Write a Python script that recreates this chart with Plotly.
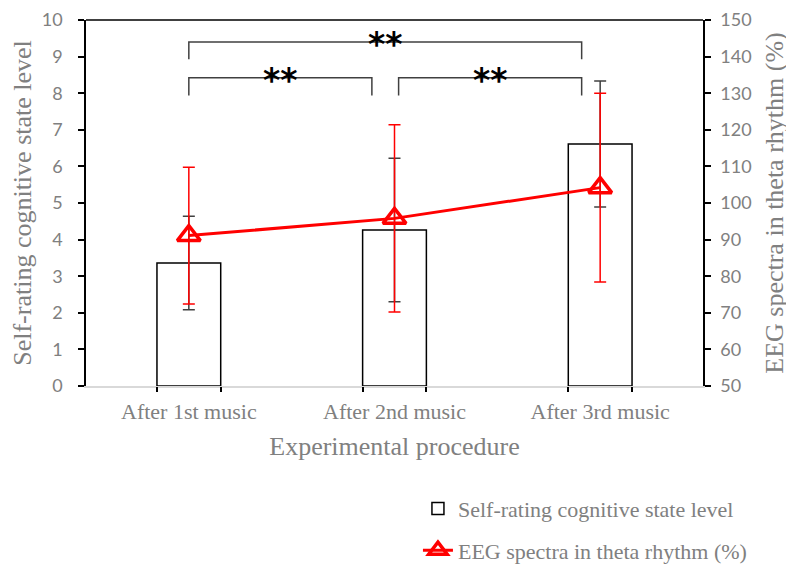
import plotly.graph_objects as go

# ---------------- data ----------------
categories = ["After 1st music", "After 2nd music", "After 3rd music"]
self_rating = [3.36, 4.26, 6.61]
self_rating_err = [1.28, 1.96, 1.72]
eeg_theta = [91.1, 95.8, 104.2]
eeg_theta_err = [18.7, 25.6, 25.8]

# significance brackets: (x start, x end, top level, drop level) on left axis scale
bracket_x0 = [0.0, 0.0, 1.02]
bracket_x1 = [1.91, 0.89, 1.91]
bracket_top = [9.40, 8.42, 8.42]
bracket_bottom = [8.93, 7.94, 7.94]
bracket_label = ["**", "**", "**"]

yl_ticks = list(range(0, 11))
yr_ticks = list(range(50, 151, 10))

BAR_W = 0.31
GRAY = "#808080"
SERIF = "Liberation Serif, Times New Roman, serif"
SANS = "Lato, Carlito, Calibri, sans-serif"

fig = go.Figure()

fig.add_trace(go.Bar(
    x=categories, y=self_rating, width=BAR_W,
    name="Self-rating cognitive state level",
    marker=dict(color="white", line=dict(color="black", width=1.5)),
    error_y=dict(type="data", array=self_rating_err, visible=True,
                 color="#404040", thickness=1.5, width=6),
    yaxis="y", legendgroup="a",
))

fig.add_trace(go.Scatter(
    x=categories, y=eeg_theta, mode="lines+markers",
    name="EEG spectra in theta rhythm (%)",
    line=dict(color="#ff0000", width=3),
    marker=dict(symbol="triangle-up-open", size=20, color="#ff0000",
                line=dict(color="#ff0000", width=3.5)),
    error_y=dict(type="data", array=eeg_theta_err, visible=True,
                 color="#ff0000", thickness=1.5, width=6),
    yaxis="y2", legendgroup="b",
))

# invisible helper trace to carry the bar-edge tick axis
edge_ticks = []
for i in range(len(categories)):
    edge_ticks += [i - BAR_W / 2, i + BAR_W / 2]
fig.add_trace(go.Scatter(x=[None], y=[None], xaxis="x2", yaxis="y",
                         showlegend=False, hoverinfo="skip"))

shapes = []
annotations = []
for x0, x1, yt, yb, lab in zip(bracket_x0, bracket_x1, bracket_top,
                               bracket_bottom, bracket_label):
    shapes.append(dict(type="path", xref="x", yref="y",
                       path=f"M {x0},{yb} L {x0},{yt} L {x1},{yt} L {x1},{yb}",
                       line=dict(color="#404040", width=1.5)))
    annotations.append(dict(x=(x0 + x1) / 2, y=yt, xref="x", yref="y",
                            text="<b>" + lab + "</b>", showarrow=False,
                            yanchor="middle", yshift=-3,
                            font=dict(family="DejaVu Sans", size=33, color="black")))
# top frame line
shapes.append(dict(type="line", xref="paper", yref="paper", x0=0, x1=1, y0=1, y1=1,
                   line=dict(color="black", width=1.5)))

fig.update_layout(
    width=786, height=557,
    margin=dict(l=78, r=91, t=12, b=179, autoexpand=False),
    paper_bgcolor="white", plot_bgcolor="white",
    showlegend=True,
    legend=dict(x=0.538, y=-0.278, xanchor="left", yanchor="top",
                font=dict(family=SERIF, size=22, color=GRAY),
                traceorder="grouped", tracegroupgap=10,
                bgcolor="rgba(0,0,0,0)"),
    xaxis=dict(type="category", range=[-0.5, 2.5], automargin=False,
               showline=True, linecolor="#d9d9d9", linewidth=2,
               ticks="", showgrid=False,
               tickfont=dict(family=SERIF, size=22, color=GRAY),
               ticklabelstandoff=5,
               title=dict(text="Experimental procedure", standoff=13,
                          font=dict(family=SERIF, size=26, color=GRAY))),
    xaxis2=dict(overlaying="x", anchor="y", side="bottom", range=[-0.5, 2.5],
                automargin=False,
                tickvals=edge_ticks, ticks="outside", ticklen=5,
                tickcolor="black", tickwidth=1.5, showticklabels=False,
                showgrid=False, showline=False, zeroline=False),
    yaxis=dict(range=[0, 10], tickvals=yl_ticks, automargin=False,
               showline=True, linecolor="black", linewidth=1.5,
               ticks="outside", ticklen=6, tickcolor="black", tickwidth=1.5,
               showgrid=False, zeroline=False,
               tickfont=dict(family=SANS, size=18, color=GRAY),
               ticklabelstandoff=12,
               title=dict(text="Self-rating cognitive state level",
                          font=dict(family=SERIF, size=26, color=GRAY))),
    yaxis2=dict(range=[50, 150], tickvals=yr_ticks, overlaying="y", side="right",
                automargin=False,
                showline=True, linecolor="black", linewidth=1.5,
                ticks="outside", ticklen=6, tickcolor="black", tickwidth=1.5,
                showgrid=False, zeroline=False,
                tickfont=dict(family=SANS, size=18, color=GRAY),
                ticklabelstandoff=6,
                title=dict(text="EEG spectra in theta rhythm (%)", standoff=14,
                           font=dict(family=SERIF, size=26, color=GRAY))),
    shapes=shapes,
    annotations=annotations,
)

fig.write_html("out.html")
